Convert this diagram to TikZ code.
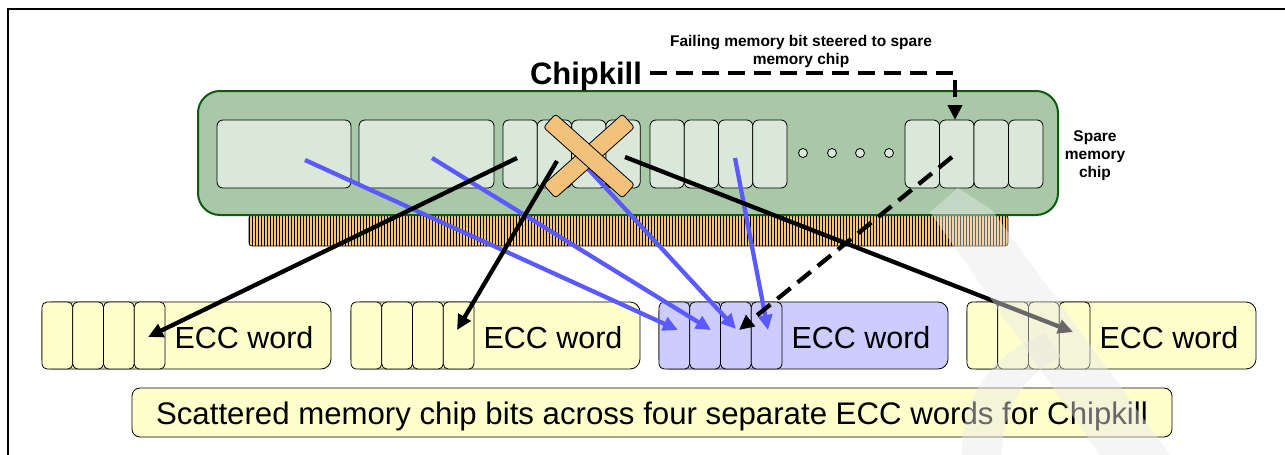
\documentclass[tikz,border=0pt]{standalone}
\usepackage{fontspec}
\setmainfont{Liberation Sans}
\usetikzlibrary{arrows.meta,patterns.meta}
\definecolor{board}{HTML}{A8C8A8}
\definecolor{boardedge}{HTML}{0F5A0F}
\definecolor{chipfill}{HTML}{D9E8D9}
\definecolor{pinfill}{HTML}{F5C47C}
\definecolor{eccyellow}{HTML}{FFFFCC}
\definecolor{eccblue}{HTML}{CCCCFF}
\definecolor{bluearrow}{HTML}{5A5AFF}
\definecolor{xfill}{HTML}{F2C27C}
\begin{document}
\begin{tikzpicture}[x=1pt,y=-1pt,
 every node/.style={inner sep=0pt,outer sep=0pt},
 chipbox/.style={draw=black,line width=0.8pt,fill=chipfill,rounded corners=6pt,anchor=north west,minimum height=68pt},
 eccbox/.style={draw=black,line width=0.8pt,rounded corners=10pt,anchor=north west,minimum width=289pt,minimum height=67pt},
 eccbit/.style={draw=black,line width=0.8pt,rounded corners=5pt,anchor=north west,minimum width=30.75pt,minimum height=67pt},
 ecctext/.style={font=\fontsize{30.5}{36}\selectfont,anchor=base},
 captext/.style={font=\fontsize{31.2}{36}\selectfont,anchor=base},
 smalllabel/.style={font=\bfseries\fontsize{15.5}{18}\selectfont,align=center},
 xbar/.style={draw=black,line width=0.8pt,fill=xfill,rounded corners=3pt,minimum width=106pt,minimum height=18pt},
 tip/.style={-{Triangle[length=15pt,width=14pt]}},
 blueline/.style={draw=bluearrow,line width=4.3pt,tip},
 blackline/.style={draw=black,line width=4.3pt,tip},
 dashline/.style={draw=black,line width=4.3pt,dash pattern=on 17pt off 9pt,tip},
 watermark/.style={fill=gray!18,opacity=0.45}
]
\useasboundingbox (0,0) rectangle (1285,455);
% frame
\draw[line width=1.2pt] (8,455) -- (8,9) -- (1285,9);

% DIMM connector and board
\node[draw=black,line width=0.8pt,preaction={fill=pinfill},pattern={Lines[angle=90,distance=3pt,line width=0.6pt]},rounded corners=3pt,anchor=north west,minimum width=759pt,minimum height=31pt] (pins) at (249,215) {};
\node[draw=boardedge,line width=2pt,fill=board,rounded corners=22pt,anchor=north west,minimum width=860pt,minimum height=124pt] (dimm) at (198,91) {};

% chips
\node[chipbox,minimum width=134pt] (bc1) at (217,120) {};
\node[chipbox,minimum width=135pt] (bc2) at (359,120) {};
\foreach \g/\x/\w in {g3/503/34.3, g4/650/34.25, g5/905/34.5} {
  \foreach \i in {1,...,4} {
    \node[chipbox,minimum width=\w pt] (\g c\i) at ({\x+(\i-1)*\w},120) {};
  }
}
\foreach \x [count=\i] in {803,832,860,889}
  \node[circle,draw=black,line width=0.8pt,fill=chipfill,minimum size=9pt] (dot\i) at (\x,153) {};

% labels
\node[font=\bfseries\fontsize{31}{36}\selectfont,anchor=base west] (ck) at (530,84) {Chipkill};
\node[smalllabel] (fail) at (801,51) {Failing memory bit steered to spare\\memory chip};
\node[smalllabel] (spare) at (1095,156) {Spare\\memory\\chip};

% ECC words
\foreach \x/\c/\n in {42/eccyellow/1, 351/eccyellow/2, 659/eccblue/3, 967/eccyellow/4} {
  \node[eccbox,fill=\c] (w\n) at (\x,302) {};
  \foreach \i in {1,...,4}
    \node[eccbit,fill=\c] (w\n b\i) at ({\x+(\i-1)*30.75},302) {};
  \node[ecctext] (w\n t) at (\x+202,348) {ECC word};
}

% caption
\node[draw=black,line width=0.8pt,fill=eccyellow,rounded corners=8pt,minimum width=1040pt,minimum height=49pt] (cap) at (652,412.5) {};
\node[captext] (capt) at (652,424) {Scattered memory chip bits across four separate ECC words for Chipkill};

% connector end points
\coordinate (u1s) at (305,160);
\coordinate (u2s) at (432,158);
\coordinate (u3s) at (580,160);
\coordinate (u4s) at (735,158);
\coordinate (b1s) at (517,158);
\coordinate (b2s) at (557,161);
\coordinate (b3s) at (625,157);
\coordinate (d2s) at (952,157);
\coordinate (u1e) at (678,330);
\coordinate (u2e) at (711,330);
\coordinate (u3e) at (736,329);
\coordinate (u4e) at (768,330);
\coordinate (b1e) at (148,337);
\coordinate (b2e) at (457,330);
\coordinate (b3e) at (1073,332);
\coordinate (d2e) at (739,330);
\coordinate (d0) at (650,73);
\coordinate (d1) at (955,73);

% blue lines
\draw[blueline] (u1s) -- (u1e);
\draw[blueline] (u2s) -- (u2e);
\draw[blueline] (u3s) -- (u3e);
\draw[blueline] (u4s) -- (u4e);

% the X over the failed chip
\node[xbar,rotate=41.8] (xa) at (589,156) {};
\node[xbar,rotate=-41.8] (xb) at (589,156) {};

% black lines
\draw[blackline] (b1s) -- (b1e);
\draw[blackline] (b2s) -- (b2e);
\draw[blackline] (b3s) -- (b3e);

% dashed lines
\draw[dashline] (d0) -- (d1) -- (d1 |- g5c2.north);
\draw[dashline] (d2s) -- (d2e);

% watermark
\fill[watermark] (958,188) -- (992,210) -- (1170,455) -- (1100,455) -- (930,212) -- cycle;
\fill[watermark] (962,455) .. controls (960,400) and (990,355) .. (1045,333)
  -- (1062,357) .. controls (1025,372) and (1002,410) .. (1002,455) -- cycle;
\end{tikzpicture}
\end{document}
